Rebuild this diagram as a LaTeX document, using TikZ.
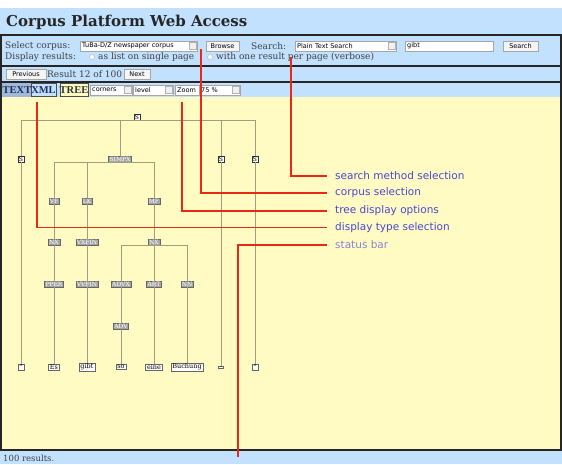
\documentclass[tikz,border=0pt]{standalone}
\usepackage{fontspec}
\setmainfont{DejaVu Serif}
\setsansfont{DejaVu Sans}
\newfontfamily\tabfont{Liberation Serif}
\usepackage{tikz}
\definecolor{pageblue}{RGB}{194,225,255}
\definecolor{paper}{RGB}{255,251,194}
\definecolor{tabgray}{RGB}{160,185,215}
\definecolor{navy}{RGB}{30,45,100}
\definecolor{treegray}{RGB}{160,158,125}
\definecolor{callred}{RGB}{232,42,20}
\definecolor{noteblue}{RGB}{72,72,212}
\definecolor{statusblue}{RGB}{132,132,214}

\begin{document}
\begin{tikzpicture}[x=1pt,y=-1pt]
      \tikzstyle{frame}=[draw=black!85,line width=2pt]
      \tikzstyle{formtext}=[anchor=west,inner sep=0pt,text=black!75,font=\fontsize{9}{10}\selectfont]
      \tikzstyle{field}=[anchor=west,draw=gray!70,fill=white,inner xsep=2pt,inner ysep=0pt,minimum height=10pt,align=left,font=\sffamily\fontsize{6.5}{7}\selectfont]
      \tikzstyle{btn}=[draw=gray!70,fill=gray!8,inner sep=0pt,minimum height=10pt,font=\sffamily\fontsize{6.5}{7}\selectfont]
      \tikzstyle{drop}=[anchor=east,draw=gray!60,fill=gray!12,inner sep=0pt,minimum size=7pt,path picture={\fill ([xshift=-1.8pt,yshift=0.8pt]path picture bounding box.center) -- ++(3.6,0) -- ++(-1.8,2.2) -- cycle;}]
      \tikzstyle{radio}=[circle,draw=gray!60,fill=white,inner sep=0pt,minimum size=5pt]
      \tikzstyle{tab}=[inner sep=0pt,minimum height=13pt,font=\tabfont\bfseries\fontsize{10.5}{11}\selectfont]
      \tikzstyle{cat}=[fill=gray!70,draw=gray!80!black,text=white,inner xsep=1pt,inner ysep=0.8pt,font=\fontsize{6}{6}\selectfont]
      \tikzstyle{sent}=[fill=white,draw=black!80,inner xsep=1pt,inner ysep=0.8pt,font=\fontsize{6}{6}\selectfont]
      \tikzstyle{word}=[fill=white,draw=gray!80!black,inner xsep=1.5pt,inner ysep=0.8pt,font=\fontsize{6.5}{6.5}\selectfont]
      \tikzstyle{tline}=[draw=treegray,line width=0.8pt]
      \tikzstyle{callout}=[draw=callred,line width=1.6pt]
      \tikzstyle{note}=[anchor=west,inner xsep=8pt,inner ysep=0pt,text=noteblue,font=\sffamily\fontsize{10.5}{12}\selectfont]
      \useasboundingbox (0,0) rectangle (562,464);
      \fill[white] (0,0) rectangle (562,464);
      \fill[pageblue] (0,8) rectangle (562,464);
      \fill[paper] (2,97) rectangle (560,450);
      \fill[tabgray] (2,83) rectangle (32,97);
      \draw[frame] (1,35) rectangle (561,66);
      \draw[frame] (1,66) rectangle (561,82);
      \draw[frame] (1,82) rectangle (561,450);
      \node[anchor=west,inner sep=0pt,text=black!85,font=\bfseries\fontsize{15}{16}\selectfont] (title) at (6,22) {Corpus Platform Web Access};
      \node[formtext] (selcorpus) at (5,46) {Select corpus:};
      \node[field,text width=113pt] (corpus) at (80,46) {TuBa-D/Z newspaper corpus};
      \node[drop] (corpusdrop) at ([xshift=-1.5pt]corpus.east) {};
      \node[btn,minimum width=33pt] (browse) at (222.5,46) {Browse};
      \node[formtext] (searchlbl) at (251,46) {Search:};
      \node[field,text width=97pt] (method) at (295,46) {Plain Text Search};
      \node[drop] (methoddrop) at ([xshift=-1.5pt]method.east) {};
      \node[field,text width=84pt] (query) at (405,46) {gibt};
      \node[btn,minimum width=35pt] (search) at (520.5,46) {Search};
      \node[formtext] (display) at (5,57) {Display results:};
      \node[radio] (radiolist) at (92,57) {};
      \node[formtext] (aslist) at (98,57) {as list on single page};
      \node[radio,path picture={\fill (path picture bounding box.center) circle (1.2pt);}] (radiopage) at (210,57) {};
      \node[formtext] (perpage) at (216,57) {with one result per page (verbose)};
      \node[btn,minimum width=40pt] (prev) at (26,74) {Previous};
      \node[formtext] (result) at (47,74) {Result 12 of 100};
      \node[btn,minimum width=26pt] (next) at (137,74) {Next};
      \node[tab,text=navy] (tabtext) at (17,90) {TEXT};
      \node[tab,draw=black!70,fill=pageblue,minimum width=23pt,text=navy] (tabxml) at (43.5,90) {XML};
      \node[tab,draw=black!70,fill=paper,minimum width=28pt,text=black!80] (tabtree) at (74,90) {TREE};
      \node[field,text width=38pt] (corners) at (90,90) {corners};
      \node[drop] (cornersdrop) at ([xshift=-1.5pt]corners.east) {};
      \node[field,text width=36pt] (level) at (133,90) {level};
      \node[drop] (leveldrop) at ([xshift=-1.5pt]level.east) {};
      \node[field,text width=20pt] (zoomlbl) at (175,90) {Zoom};
      \node[field,text width=37pt] (zoom) at (199,90) {75 \%};
      \node[drop] (zoomdrop) at ([xshift=-1.5pt]zoom.east) {};
      \node[formtext,font=\fontsize{8.5}{9}\selectfont] (status) at (3,458) {100 results.};
      \node[sent] (s0) at (137,117) {S};
      \node[sent] (s1) at (21,159) {S};
      \node[cat] (simpx) at (120,159) {SIMPX};
      \node[sent] (s2) at (221,159) {S};
      \node[sent] (s3) at (255,159) {S};
      \node[cat] (vf) at (54,201) {VF};
      \node[cat] (lk) at (87,201) {LK};
      \node[cat] (mf) at (154,201) {MF};
      \node[cat] (nx1) at (54,242) {NX};
      \node[cat] (vxfin) at (87,242) {VXFIN};
      \node[cat] (nx2) at (154,242) {NX};
      \node[cat] (pper) at (54,284) {PPER};
      \node[cat] (vvfin) at (87,284) {VVFIN};
      \node[cat] (advx) at (121,284) {ADVX};
      \node[cat] (art) at (154,284) {ART};
      \node[cat] (nn) at (187,284) {NN};
      \node[cat] (adv) at (121,326) {ADV};
      \node[word] (w1) at (21,367) {"};
      \node[word] (w2) at (54,367) {Es};
      \node[word] (w3) at (87,367) {gibt};
      \node[word] (w4) at (121,367) {so};
      \node[word] (w5) at (154,367) {eine};
      \node[word] (w6) at (187,367) {Buchung};
      \node[word] (w7) at (221,367) {.};
      \node[word] (w8) at (255,367) {"};
      \draw[tline] (s0.south) -| (s1.north);
      \draw[tline] (s0.south) -| (simpx.north);
      \draw[tline] (s0.south) -| (s2.north);
      \draw[tline] (s0.south) -| (s3.north);
      \draw[tline] (simpx.south) -| (vf.north);
      \draw[tline] (simpx.south) -| (lk.north);
      \draw[tline] (simpx.south) -| (mf.north);
      \draw[tline] (nx2.south) -| (advx.north);
      \draw[tline] (nx2.south) -| (art.north);
      \draw[tline] (nx2.south) -| (nn.north);
      \draw[tline] (s1.south) -- (w1.north);
      \draw[tline] (s2.south) -- (w7.north);
      \draw[tline] (s3.south) -- (w8.north);
      \draw[tline] (vf.south) -- (nx1.north);
      \draw[tline] (nx1.south) -- (pper.north);
      \draw[tline] (pper.south) -- (w2.north);
      \draw[tline] (lk.south) -- (vxfin.north);
      \draw[tline] (vxfin.south) -- (vvfin.north);
      \draw[tline] (vvfin.south) -- (w3.north);
      \draw[tline] (mf.south) -- (nx2.north);
      \draw[tline] (advx.south) -- (adv.north);
      \draw[tline] (adv.south) -- (w4.north);
      \draw[tline] (art.south) -- (w5.north);
      \draw[tline] (nn.south) -- (w6.north);
      \coordinate (csearch) at (291,57);
      \coordinate (ccorpus) at (201,49);
      \coordinate (ctree) at (182,102);
      \coordinate (ctype) at (37,102);
      \coordinate (cstatus) at (238,457);
      \node[note] (nsearch) at (327,176) {search method selection};
      \node[note] (ncorpus) at (327,193) {corpus selection};
      \node[note] (ntree) at (327,211) {tree display options};
      \node[note] (ntype) at (327,227.5) {display type selection};
      \node[note,text=statusblue] (nstatus) at (327,245) {status bar};
      \draw[callout] (csearch) |- (nsearch.west);
      \draw[callout] (ccorpus) |- (ncorpus.west);
      \draw[callout] (ctree) |- (ntree.west);
      \draw[callout] (ctype) |- (ntype.west);
      \draw[callout] (cstatus) |- (nstatus.west);
    \end{tikzpicture}
\end{document}
